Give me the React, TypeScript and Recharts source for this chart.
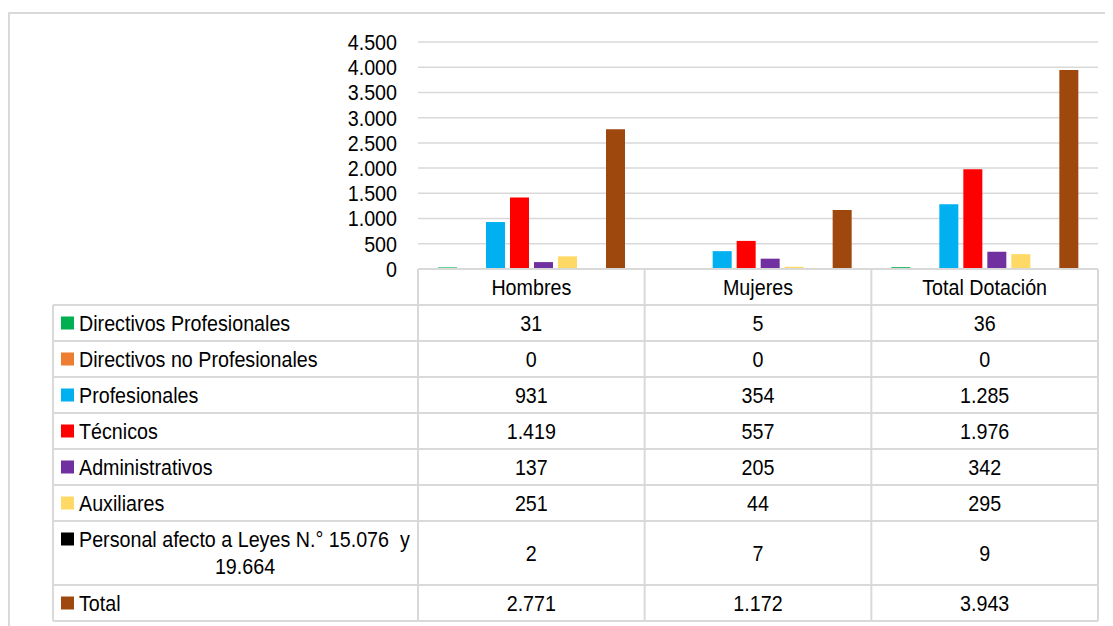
import React from 'react';
import { BarChart, Bar, XAxis, YAxis, CartesianGrid } from 'recharts';

const categories = ['Hombres', 'Mujeres', 'Total Dotación'];
const seriesNames = [
  'Directivos Profesionales',
  'Directivos no Profesionales',
  'Profesionales',
  'Técnicos',
  'Administrativos',
  'Auxiliares',
  'Personal afecto a Leyes N.° 15.076  y 19.664',
  'Total',
];
const seriesColors = ['#00B050', '#ED7D31', '#00B0F0', '#FF0000', '#7030A0', '#FFD966', '#000000', '#9E480E'];

const directivosProfesionales = [31, 5, 36];
const directivosNoProfesionales = [0, 0, 0];
const profesionales = [931, 354, 1285];
const tecnicos = [1419, 557, 1976];
const administrativos = [137, 205, 342];
const auxiliares = [251, 44, 295];
const personalLeyes = [2, 7, 9];
const total = [2771, 1172, 3943];

const yTicks = [0, 500, 1000, 1500, 2000, 2500, 3000, 3500, 4000, 4500];

const seriesValues = [
  directivosProfesionales,
  directivosNoProfesionales,
  profesionales,
  tecnicos,
  administrativos,
  auxiliares,
  personalLeyes,
  total,
];

const data = categories.map((name, i) => {
  const row: any = { name };
  seriesValues.forEach((vals, s) => {
    row['s' + s] = vals[i];
  });
  return row;
});

const FONT = "'Liberation Sans', Arial, sans-serif";
const FS = 19.7;
const STRETCH = 1.12;
const LINE = '#d9d9d9';
const fmt = (v: number) => String(v).replace(/\B(?=(\d{3})+(?!\d))/g, '.');

const W = 1105;
const H = 618;
const M_TOP = 34;
const M_RIGHT = 15;
const Y_W = 410;
const X_H = 357;
const PLOT_W = W - Y_W - M_RIGHT;
const BAND = PLOT_W / categories.length;
const rows = [261, 297, 333, 369, 405, 441, 477, 513, 577, 613];
const LABEL_LEFT = 45;

// text whose visual centre sits at cy, stretched vertically like the source
const T = (props: { x: number; cy: number; anchor?: string; children: any }) => {
  const { x, cy, anchor, children } = props;
  return (
    <text
      x={x}
      y={cy + 7}
      textAnchor={anchor || 'start'}
      fontSize={FS}
      fontFamily={FONT}
      fill="#000"
      style={{ whiteSpace: 'pre' }}
      transform={`translate(0 ${cy}) scale(1 ${STRETCH}) translate(0 ${-cy})`}
    >
      {children}
    </text>
  );
};

const YTick = (props: any) => {
  const { x, y, payload } = props;
  return (
    <T x={x} cy={y} anchor="end">
      {fmt(payload.value)}
    </T>
  );
};

const TableColumn = (props: any) => {
  const { x, payload } = props;
  let idx = props.index;
  if (idx === undefined || idx === null) idx = categories.indexOf(payload.value);
  const left = x - BAND / 2;
  const right = x + BAND / 2;
  const els: any[] = [];
  rows.forEach((ry, k) => {
    els.push(<line key={'h' + k} x1={left} x2={right} y1={ry} y2={ry} stroke={LINE} strokeWidth={2} />);
  });
  els.push(<line key="vr" x1={right} x2={right} y1={rows[0]} y2={rows[9]} stroke={LINE} strokeWidth={2} />);
  els.push(
    <T key="hd" x={x} cy={(rows[0] + rows[1]) / 2} anchor="middle">
      {payload.value}
    </T>
  );
  seriesValues.forEach((vals, s) => {
    const cy = (rows[s + 1] + rows[s + 2]) / 2;
    els.push(
      <T key={'v' + s} x={x} cy={cy} anchor="middle">
        {fmt(vals[idx])}
      </T>
    );
  });
  if (idx === 0) {
    els.push(<line key="vl0" x1={left} x2={left} y1={rows[0]} y2={rows[9]} stroke={LINE} strokeWidth={2} />);
    els.push(<line key="vl1" x1={LABEL_LEFT} x2={LABEL_LEFT} y1={rows[1]} y2={rows[9]} stroke={LINE} strokeWidth={2} />);
    for (let k = 1; k < rows.length; k++) {
      els.push(<line key={'lh' + k} x1={LABEL_LEFT} x2={left} y1={rows[k]} y2={rows[k]} stroke={LINE} strokeWidth={2} />);
    }
    seriesNames.forEach((name, s) => {
      const top = rows[s + 1];
      const bottom = rows[s + 2];
      if (s === 6) {
        const l1 = top + 18;
        const l2 = top + 45;
        els.push(<rect key={'sq' + s} x={53} y={l1 - 6.5} width={13} height={13} fill={seriesColors[s]} />);
        els.push(
          <T key={'t' + s + 'a'} x={71} cy={l1}>
            {'Personal afecto a Leyes N.° 15.076  y'}
          </T>
        );
        els.push(
          <T key={'t' + s + 'b'} x={237} cy={l2} anchor="middle">
            19.664
          </T>
        );
      } else {
        const cy = (top + bottom) / 2;
        els.push(<rect key={'sq' + s} x={53} y={cy - 6.5} width={13} height={13} fill={seriesColors[s]} />);
        els.push(
          <T key={'t' + s} x={71} cy={cy}>
            {name}
          </T>
        );
      }
    });
  }
  return <g>{els}</g>;
};

export default function App() {
  return (
    <div style={{ position: 'relative', width: W, height: H }}>
      <div
        style={{
          position: 'absolute',
          left: 0,
          top: 4,
          width: W,
          height: H - 4,
          borderTop: `2px solid ${LINE}`,
          borderLeft: `2px solid ${LINE}`,
          boxSizing: 'border-box',
        }}
      />
      <div style={{ position: 'absolute', left: 0, top: 0 }}>
        <BarChart
          width={W}
          height={H}
          data={data}
          margin={{ top: M_TOP, right: M_RIGHT, bottom: 0, left: 0 }}
          barGap={5}
          barSize={19}
        >
          <CartesianGrid vertical={false} stroke={LINE} strokeWidth={1.5} />
          <XAxis
            dataKey="name"
            height={X_H}
            axisLine={false}
            tickLine={false}
            interval={0}
            tick={(p: any) => <TableColumn {...p} />}
          />
          <YAxis
            width={Y_W}
            domain={[0, 4500]}
            ticks={yTicks}
            interval={0}
            axisLine={false}
            tickLine={false}
            tickSize={6}
            tickMargin={15}
            tick={(p: any) => <YTick {...p} />}
          />
          {seriesNames.map((n, s) => (
            <Bar key={n} dataKey={'s' + s} name={n} fill={seriesColors[s]} isAnimationActive={false} />
          ))}
        </BarChart>
      </div>
    </div>
  );
}
